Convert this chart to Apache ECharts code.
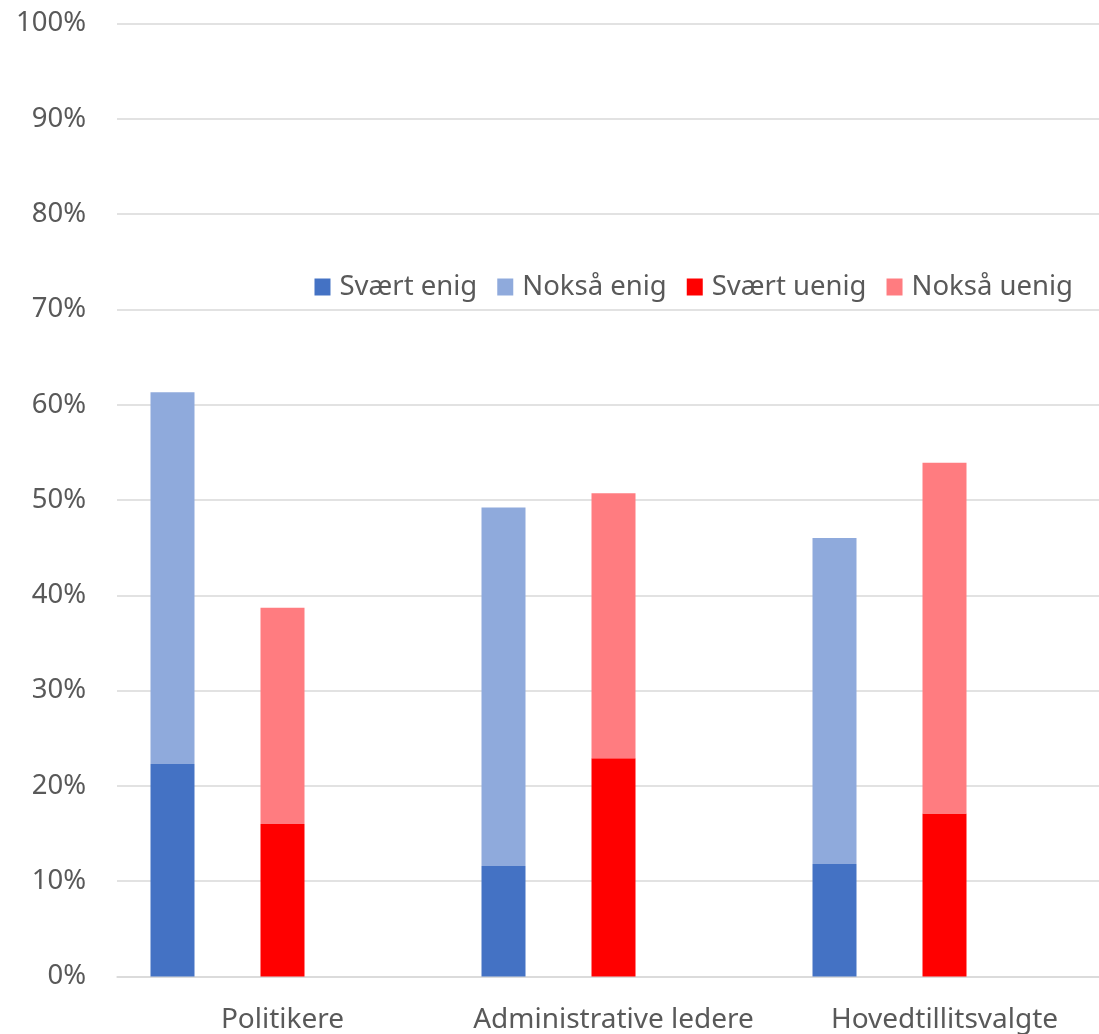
<!DOCTYPE html>
<html>
<head>
<meta charset="utf-8">
<script src="https://cdn.jsdelivr.net/npm/echarts@6/dist/echarts.min.js"></script>
<style>html,body{margin:0;padding:0;background:#fff;}#chart{width:1099px;height:1034px;}</style>
</head>
<body>
<div id="chart"></div>
<script>
const categories = ['Politikere', 'Administrative ledere', 'Hovedtillitsvalgte'];
const svaertEnig = [22.3, 11.6, 11.8];
const noksaEnig = [39.0, 37.6, 34.2];
const svaertUenig = [16.0, 22.9, 17.1];
const noksaUenig = [22.7, 27.8, 36.8];
const emptySlot = ['-', '-', '-'];
const yTicks = [0, 10, 20, 30, 40, 50, 60, 70, 80, 90, 100];

const FONT = 'Noto Sans';
const TXT = '#595959';
const chart = echarts.init(document.getElementById('chart'));
function bar(name, data, stack, color) {
  return { name, type: 'bar', stack, data, barWidth: 44, barGap: '150%',
    itemStyle: { color }, emphasis: { disabled: true } };
}
chart.setOption({
  animation: false,
  textStyle: { fontFamily: FONT },
  grid: { left: 117, width: 993, top: 23.5, bottom: 57.5, containLabel: false, outerBoundsMode: 'none' },
  legend: {
    data: ['Svært enig', 'Nokså enig', 'Svært uenig', 'Nokså uenig'],
    right: 21, top: 268, itemWidth: 16, itemHeight: 17, itemGap: 20,
    icon: 'rect',
    textStyle: { fontSize: 27.5, color: TXT, fontFamily: FONT, padding: [0, 0, 0, 4] }
  },
  xAxis: {
    type: 'category', data: categories,
    axisLine: { lineStyle: { color: '#D9D9D9', width: 1.5 } },
    axisTick: { show: false },
    axisLabel: { fontSize: 28, color: TXT, margin: 30, fontFamily: FONT, interval: 0 }
  },
  yAxis: {
    type: 'value', min: 0, max: 100, interval: 10,
    axisLine: { show: false }, axisTick: { show: false },
    splitLine: { lineStyle: { color: '#D9D9D9', width: 1.5 } },
    axisLabel: { fontSize: 27.5, color: TXT, margin: 31, fontFamily: FONT,
      formatter: v => yTicks.includes(v) ? v + '%' : '' }
  },
  series: [
    bar('Svært enig', svaertEnig, 'enig', '#4472C4'),
    bar('Nokså enig', noksaEnig, 'enig', '#8FAADC'),
    bar('Svært uenig', svaertUenig, 'uenig', '#FF0000'),
    bar('Nokså uenig', noksaUenig, 'uenig', '#FF7C80'),
    bar('empty', emptySlot, 'empty', 'rgba(0,0,0,0)')
  ]
});
</script>
</body>
</html>
